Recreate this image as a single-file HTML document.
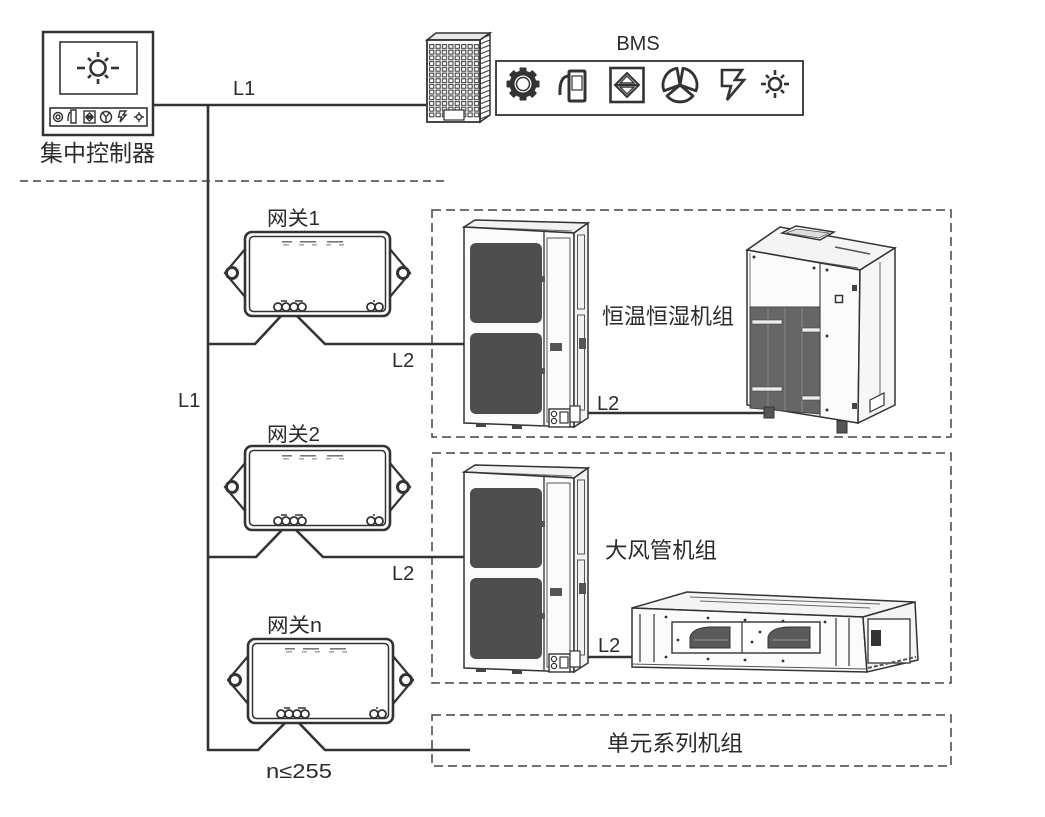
<!DOCTYPE html>
<html><head><meta charset="utf-8"><style>
html,body{margin:0;padding:0;background:#fff;}
svg{display:block;}
text{font-family:"Liberation Sans","Noto Sans CJK SC",sans-serif;fill:#2b2b2b;}
</style></head><body>
<svg width="1045" height="817" viewBox="0 0 1045 817" xmlns="http://www.w3.org/2000/svg">
<defs>
 <pattern id="win" x="429" y="44" width="6.4" height="5.7" patternUnits="userSpaceOnUse">
  <rect x="0.6" y="0.6" width="4.2" height="3.8" fill="#fff" stroke="#333" stroke-width="1"/>
 </pattern>
 <pattern id="stripe" x="0" y="0" width="10" height="5" patternUnits="userSpaceOnUse">
  <line x1="0" y1="4" x2="10" y2="0" stroke="#444" stroke-width="1.2"/>
 </pattern>
 <g id="gw">
  <path d="M1,16 L-20,41 L1,66" fill="#fff" stroke="#333" stroke-width="2.2"/>
  <path d="M144,16 L165,41 L144,66" fill="#fff" stroke="#333" stroke-width="2.2"/>
  <circle cx="-13" cy="41" r="5.5" fill="#fff" stroke="#333" stroke-width="3"/>
  <circle cx="158" cy="41" r="5.5" fill="#fff" stroke="#333" stroke-width="3"/>
  <rect x="0" y="0" width="145" height="84" rx="7" fill="#fff" stroke="#333" stroke-width="2.6"/>
  <rect x="4.5" y="4.5" width="136" height="75" rx="4" fill="none" stroke="#333" stroke-width="1.5"/>
  <rect x="37" y="9" width="10" height="1.6" fill="#777"/>
  <rect x="38" y="12" width="6" height="1.6" fill="#aaa"/>
  <rect x="55" y="9" width="16" height="1.6" fill="#777"/>
  <rect x="54" y="12" width="5" height="1.6" fill="#aaa"/>
  <rect x="67" y="12" width="5" height="1.6" fill="#aaa"/>
  <rect x="82" y="9" width="16" height="1.6" fill="#777"/>
  <rect x="81" y="12" width="5" height="1.6" fill="#aaa"/>
  <rect x="94" y="12" width="5" height="1.6" fill="#aaa"/>
  <g fill="#fff" stroke="#333" stroke-width="1.8">
   <circle cx="33" cy="75" r="4"/><circle cx="41" cy="75" r="4"/>
   <circle cx="49" cy="75" r="4"/><circle cx="57" cy="75" r="4"/>
   <circle cx="126" cy="75" r="4"/><circle cx="134" cy="75" r="4"/>
  </g>
  <rect x="36" y="68" width="6" height="2" fill="#666"/>
  <rect x="50" y="68" width="8" height="2" fill="#666"/>
  <rect x="128" y="68" width="2" height="2" fill="#666"/>
 </g>
 <g id="odu">
  <polygon points="0,7 11,0 124,3 110,13" fill="#f2f2f2" stroke="#333" stroke-width="1.5"/>
  <line x1="4" y1="7" x2="108" y2="11" stroke="#666" stroke-width="1"/>
  <polygon points="0,7 110,13 110,207 0,203" fill="#fbfbfb" stroke="#333" stroke-width="1.5"/>
  <polygon points="110,13 124,3 124,198 110,207" fill="#f2f2f2" stroke="#333" stroke-width="1.5"/>
  <rect x="6" y="23" width="72" height="80" rx="6" fill="#4e4e4e"/>
  <rect x="6" y="113" width="72" height="81" rx="6" fill="#4e4e4e"/>
  <line x1="80" y1="11" x2="80" y2="205" stroke="#333" stroke-width="1.3"/>
  <rect x="83" y="18" width="23" height="184" fill="none" stroke="#555" stroke-width="1"/>
  <rect x="113.5" y="15" width="7" height="74" fill="none" stroke="#555" stroke-width="1"/>
  <rect x="113.5" y="95" width="7" height="95" fill="none" stroke="#555" stroke-width="1"/>
  <rect x="86" y="123" width="12" height="8" fill="#555"/>
  <rect x="115" y="118" width="7" height="11" fill="#555"/>
  <rect x="78" y="56" width="3" height="6" fill="#555"/>
  <rect x="78" y="148" width="3" height="6" fill="#555"/>
  <rect x="85" y="189" width="21" height="18" fill="#fff" stroke="#333" stroke-width="1.4"/>
  <circle cx="90" cy="194" r="2.6" fill="none" stroke="#333" stroke-width="1.2"/>
  <circle cx="90" cy="201" r="2.6" fill="none" stroke="#333" stroke-width="1.2"/>
  <rect x="96" y="192" width="8" height="11" fill="none" stroke="#333" stroke-width="1.2"/>
  <rect x="106" y="186" width="10" height="16" fill="#fff" stroke="#333" stroke-width="1.2"/>
  <rect x="12" y="203" width="10" height="4" fill="#444"/>
  <rect x="48" y="205" width="10" height="4" fill="#444"/>
 </g>
</defs>

<!-- central controller -->
<rect x="43" y="32" width="110" height="103" fill="#fff" stroke="#333" stroke-width="2.5"/>
<rect x="60" y="42" width="77" height="52" fill="#fff" stroke="#333" stroke-width="1.6"/>
<g stroke="#333" stroke-width="2.6" fill="none">
 <circle cx="98" cy="68" r="7.5"/>
 <line x1="77" y1="68" x2="85" y2="68"/><line x1="111" y1="68" x2="119" y2="68"/>
 <line x1="98" y1="52" x2="98" y2="57"/><line x1="98" y1="79" x2="98" y2="84"/>
 <line x1="88" y1="58" x2="91" y2="61"/><line x1="108" y1="58" x2="105" y2="61"/>
 <line x1="88" y1="78" x2="91" y2="75"/><line x1="108" y1="78" x2="105" y2="75"/>
</g>
<rect x="50" y="108" width="97" height="18" fill="#fff" stroke="#333" stroke-width="1.6"/>
<g stroke="#333" stroke-width="1.4" fill="none">
 <circle cx="58" cy="117" r="4.5"/><circle cx="58" cy="117" r="2"/>
 <path d="M71,112 Q68,112 68,121 M71,110 h5 v13 h-5 z"/>
 <rect x="84" y="111" width="11" height="12"/><path d="M86,117 h7 M89.5,113 l3,3 h-6 z M89.5,121 l3,-3 h-6 z"/>
 <circle cx="106" cy="117" r="5.5"/><path d="M106,117 L102,112 M106,117 L110,112 M106,117 L106,122"/>
 <path d="M120,111 h6 l-3,4 h3 l-6,7 l1.5,-5 h-3 z"/>
 <circle cx="139" cy="117" r="2.5"/><path d="M134,117 h2 M142,117 h2 M139,112 v2 M139,120 v2"/>
</g>
<text x="40" y="161" font-size="23" textLength="115" lengthAdjust="spacingAndGlyphs">集中控制器</text>

<!-- top L1 line and trunk -->
<line x1="153" y1="105" x2="426" y2="105" stroke="#333" stroke-width="2.6"/>
<line x1="208" y1="104" x2="208" y2="751" stroke="#333" stroke-width="2.6"/>
<text x="233" y="95" font-size="20">L1</text>
<text x="178" y="407" font-size="20">L1</text>

<!-- building -->
<polygon points="427,40 436,33 490,33 480,40" fill="#e8e8e8" stroke="#333" stroke-width="1.5"/>
<polygon points="480,40 490,33 490,115 480,122" fill="url(#stripe)" stroke="#333" stroke-width="1.5"/>
<rect x="427" y="40" width="53" height="82" fill="#fff" stroke="#333" stroke-width="1.8"/>
<rect x="429" y="44" width="50.5" height="74" fill="url(#win)"/>
<rect x="444" y="110" width="20" height="10" fill="#fff" stroke="#333" stroke-width="1.2"/>

<!-- BMS -->
<text x="638" y="50" font-size="20" text-anchor="middle">BMS</text>
<rect x="496" y="61" width="307" height="54" fill="#fff" stroke="#333" stroke-width="1.8"/>
<g fill="#333">
 <rect x="519.5" y="67.5" width="7" height="33" rx="1"/>
 <rect x="506.5" y="80.5" width="33" height="7" rx="1"/>
 <rect x="519.5" y="67.5" width="7" height="33" rx="1" transform="rotate(45 523 84)"/>
 <rect x="519.5" y="67.5" width="7" height="33" rx="1" transform="rotate(-45 523 84)"/>
</g>
<circle cx="523" cy="84" r="13.5" fill="#333"/>
<circle cx="523" cy="84" r="8.5" fill="#fff"/>
<circle cx="523" cy="84" r="6.5" fill="none" stroke="#333" stroke-width="1.5"/>
<g fill="none" stroke="#333" stroke-width="3">
 <rect x="569" y="71" width="16" height="30" rx="1"/>
 <path d="M569,76 Q559,76 560,95"/>
 <rect x="572" y="76" width="10" height="14" stroke-width="1.2"/>
 <rect x="610.5" y="68" width="33" height="34" stroke-width="2.6"/>
 <path d="M627,73 L639,85 L627,97 L615,85 Z M615,85 H639" stroke-width="2"/>
 <path d="M722,70 L742,70 L735,80 L744,80 L727,100 L731,86 L722,86 Z" stroke-width="2.6"/>
</g>
<path d="M627,76 L634,83 H620 Z M627,94 L634,87 H620 Z" fill="#fff" stroke="#333" stroke-width="1.4"/>
<g fill="#fff" stroke="#333" stroke-width="2.8" stroke-linejoin="round">
 <path d="M680,85 L664,90.8 A17,17 0 0 1 677,68.3 Z"/>
 <path d="M680,85 L683,68.3 A17,17 0 0 1 696,90.8 Z"/>
 <path d="M680,85 L693,95.9 A17,17 0 0 1 667,95.9 Z"/>
</g>
<g stroke="#333" stroke-width="2.6" fill="none">
 <circle cx="775" cy="84" r="6"/>
 <line x1="761" y1="84" x2="766" y2="84"/><line x1="784" y1="84" x2="789" y2="84"/>
 <line x1="775" y1="70" x2="775" y2="75"/><line x1="775" y1="93" x2="775" y2="98"/>
 <line x1="766" y1="75" x2="769" y2="78"/><line x1="784" y1="75" x2="781" y2="78"/>
 <line x1="766" y1="93" x2="769" y2="90"/><line x1="784" y1="93" x2="781" y2="90"/>
</g>

<!-- separator -->
<line x1="20" y1="181" x2="448" y2="181" stroke="#444" stroke-width="1.5" stroke-dasharray="8,5"/>

<!-- dashed groups -->
<g fill="none" stroke="#444" stroke-width="1.5" stroke-dasharray="9,5">
 <rect x="432" y="210" width="519" height="227"/>
 <rect x="432" y="453" width="519" height="230"/>
 <rect x="432" y="715" width="519" height="51"/>
</g>

<!-- gateways -->
<use href="#gw" transform="translate(245,232)"/>
<use href="#gw" transform="translate(245,446)"/>
<use href="#gw" transform="translate(248,639)"/>
<g fill="none" stroke="#333" stroke-width="2.6" stroke-linejoin="miter">
 <polyline points="208,344 255,344 281,316"/>
 <polyline points="297,316 325,344 465,344"/>
 <polyline points="208,557 256,557 282,530"/>
 <polyline points="296,530 323,557 465,557"/>
 <polyline points="208,750 258,750 285,723"/>
 <polyline points="299,723 325,750 470,750"/>
</g>
<text x="267" y="225" font-size="20" textLength="53" lengthAdjust="spacingAndGlyphs">网关1</text>
<text x="267" y="441" font-size="20" textLength="53" lengthAdjust="spacingAndGlyphs">网关2</text>
<text x="267" y="632" font-size="20" textLength="55" lengthAdjust="spacingAndGlyphs">网关n</text>
<text x="392" y="367" font-size="20">L2</text>
<text x="392" y="580" font-size="20">L2</text>
<text x="266" y="778" font-size="20" textLength="66" lengthAdjust="spacingAndGlyphs">n≤255</text>

<!-- outdoor units -->
<use href="#odu" transform="translate(464,220)"/>
<use href="#odu" transform="translate(464,465)"/>

<!-- L2 connections in boxes -->
<line x1="588" y1="413" x2="766" y2="413" stroke="#333" stroke-width="2.4"/>
<line x1="588" y1="657" x2="633" y2="657" stroke="#333" stroke-width="2.4"/>
<text x="597" y="410" font-size="20">L2</text>
<text x="598" y="652" font-size="20">L2</text>

<text x="602" y="324" font-size="22" textLength="132" lengthAdjust="spacingAndGlyphs">恒温恒湿机组</text>
<text x="605" y="558" font-size="22" textLength="112" lengthAdjust="spacingAndGlyphs">大风管机组</text>
<text x="607" y="751" font-size="22" textLength="136" lengthAdjust="spacingAndGlyphs">单元系列机组</text>

<!-- cabinet (constant temp/humidity unit) -->
<polygon points="747,250 780,227 895,248 860,270" fill="#f4f4f4" stroke="#333" stroke-width="1.5"/>
<line x1="752" y1="252" x2="858" y2="268" stroke="#555" stroke-width="1"/>
<line x1="835" y1="247" x2="870" y2="254" stroke="#555" stroke-width="1.5"/>
<polygon points="782,233 796,226 834,232 820,240" fill="#fff" stroke="#333" stroke-width="1.5"/>
<polygon points="786,233 797,229 829,233 819,238" fill="#ddd" stroke="#555" stroke-width="0.8"/>
<polygon points="747,250 860,270 858,423 747,405" fill="#fbfbfb" stroke="#333" stroke-width="1.5"/>
<polygon points="860,270 895,248 895,405 858,423" fill="#f6f6f6" stroke="#333" stroke-width="1.5"/>
<line x1="820" y1="263" x2="820" y2="416" stroke="#444" stroke-width="1.2"/>
<line x1="880" y1="262" x2="880" y2="405" stroke="#666" stroke-width="1"/>
<line x1="750" y1="253" x2="750" y2="405" stroke="#777" stroke-width="1"/>
<polygon points="750,307 820,307 820,414 750,408" fill="#666" stroke="#444" stroke-width="1"/>
<g stroke="#888" stroke-width="1">
 <line x1="768" y1="308" x2="768" y2="410"/><line x1="785" y1="308" x2="785" y2="411"/>
 <line x1="802" y1="308" x2="802" y2="412"/>
</g>
<rect x="752" y="320" width="30" height="4" fill="#eee" stroke="#444" stroke-width="0.6"/>
<rect x="752" y="387" width="30" height="4" fill="#eee" stroke="#444" stroke-width="0.6"/>
<rect x="802" y="328" width="18" height="4" fill="#eee" stroke="#444" stroke-width="0.6"/>
<rect x="802" y="396" width="18" height="4" fill="#eee" stroke="#444" stroke-width="0.6"/>
<rect x="835.5" y="295.5" width="7" height="7" fill="#fff" stroke="#333" stroke-width="1.5"/>
<rect x="852" y="285" width="5" height="6" fill="#444"/>
<rect x="852" y="403" width="5" height="6" fill="#444"/>
<polygon points="870,412 884,405 884,393 870,400" fill="#fff" stroke="#333" stroke-width="1.2"/>
<g fill="#333">
 <circle cx="754" cy="257" r="1.5"/><circle cx="814" cy="268" r="1.5"/>
 <circle cx="827" cy="270" r="1.5"/><circle cx="827" cy="336" r="1.5"/><circle cx="827" cy="410" r="1.5"/>
</g>
<rect x="764" y="407" width="10" height="11" fill="#555" stroke="#333" stroke-width="1"/>
<rect x="837" y="421" width="10" height="12" fill="#555" stroke="#333" stroke-width="1"/>

<!-- ducted unit -->
<polygon points="632,608 687,592 915,602 863,617" fill="#f4f4f4" stroke="#333" stroke-width="1.5"/>
<g stroke="#666" stroke-width="1">
 <line x1="690" y1="597" x2="880" y2="604"/>
 <line x1="700" y1="601" x2="870" y2="608"/>
 <line x1="640" y1="609" x2="860" y2="617"/>
</g>
<polygon points="632,608 863,617 867,672 632,667" fill="#fbfbfb" stroke="#333" stroke-width="1.5"/>
<polygon points="863,617 915,602 918,660 867,672" fill="#f4f4f4" stroke="#333" stroke-width="1.5"/>
<g stroke="#444" stroke-width="1.3">
 <line x1="640" y1="614" x2="640" y2="662"/><line x1="654" y1="614" x2="654" y2="662"/>
 <line x1="836" y1="618" x2="836" y2="666"/><line x1="849" y1="618" x2="849" y2="666"/>
</g>
<rect x="672" y="622" width="148" height="31" fill="#fff" stroke="#333" stroke-width="1.4"/>
<line x1="742" y1="622" x2="742" y2="653" stroke="#333" stroke-width="1.2"/>
<path d="M690,648 L690,637 Q693,627 712,627 L730,627 L730,648 Z" fill="#5a5a5a" stroke="#333" stroke-width="1"/>
<path d="M768,648 L768,637 Q771,627 790,627 L810,627 L810,648 Z" fill="#5a5a5a" stroke="#333" stroke-width="1"/>
<g stroke="#aaa" stroke-width="0.8"><line x1="694" y1="640" x2="728" y2="640"/><line x1="772" y1="640" x2="808" y2="640"/></g>
<rect x="868" y="619" width="42" height="44" fill="#fff" stroke="#333" stroke-width="1.3"/>
<rect x="871" y="630" width="10" height="16" fill="#333"/>
<g fill="#333">
 <circle cx="666" cy="617" r="1.4"/><circle cx="708" cy="618" r="1.4"/><circle cx="745" cy="620" r="1.4"/>
 <circle cx="783" cy="621" r="1.4"/><circle cx="825" cy="622" r="1.4"/><circle cx="666" cy="657" r="1.4"/>
 <circle cx="708" cy="659" r="1.4"/><circle cx="745" cy="660" r="1.4"/><circle cx="783" cy="661" r="1.4"/>
 <circle cx="760" cy="632" r="1.4"/><circle cx="752" cy="642" r="1.4"/><circle cx="678" cy="640" r="1.4"/>
</g>
<line x1="632" y1="664" x2="867" y2="669" stroke="#555" stroke-width="1"/>
<line x1="868" y1="668" x2="916" y2="657" stroke="#555" stroke-width="2" stroke-dasharray="4,2"/>
</svg>
</body></html>
